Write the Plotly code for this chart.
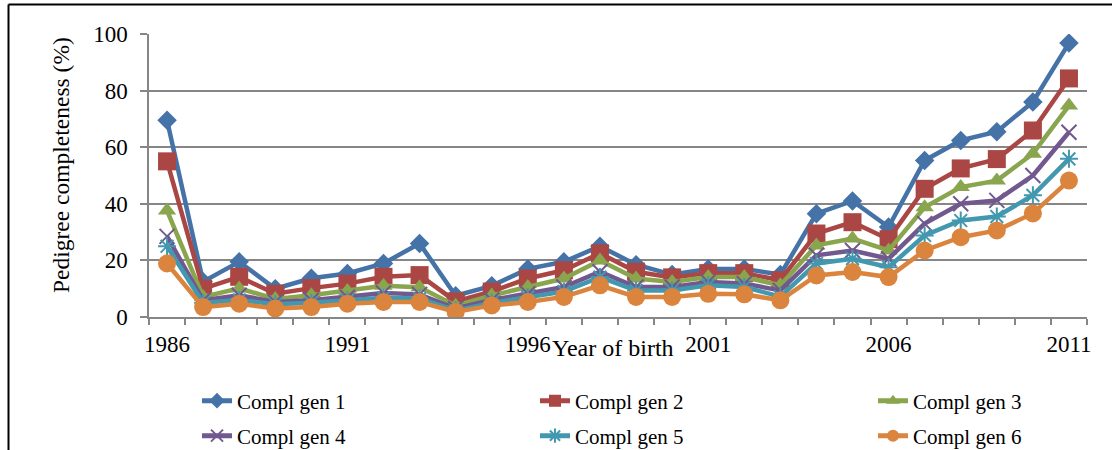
import plotly.graph_objects as go

years = list(range(1986, 2012))
gen1 = [69.5, 12.5, 19.5, 10.0, 13.7, 15.4, 18.9, 26.0, 7.5, 11.0, 17.0, 19.5, 25.0, 18.5, 15.0, 17.0, 17.0, 15.0, 36.5, 41.0, 31.8, 55.3, 62.4, 65.5, 76.0, 96.8]
gen2 = [55.0, 10.0, 14.2, 8.2, 10.2, 11.8, 14.2, 14.8, 5.5, 9.0, 13.6, 16.5, 22.5, 16.0, 14.0, 15.5, 15.5, 13.0, 29.5, 33.5, 27.5, 45.3, 52.5, 55.8, 65.9, 84.3]
gen3 = [37.6, 7.1, 10.1, 6.4, 7.7, 9.2, 11.0, 10.5, 4.0, 7.6, 10.6, 13.6, 20.0, 13.6, 12.4, 14.1, 14.1, 11.2, 25.3, 27.7, 23.5, 38.8, 45.9, 48.2, 57.7, 74.7]
gen4 = [28.5, 5.9, 7.7, 5.3, 5.9, 7.0, 8.5, 8.0, 3.0, 6.0, 8.2, 10.6, 16.0, 10.6, 10.6, 12.4, 11.8, 9.4, 21.8, 23.5, 20.6, 33.0, 40.0, 41.2, 50.0, 65.3]
gen5 = [25.0, 5.0, 6.0, 4.5, 5.0, 5.9, 6.8, 6.5, 2.3, 5.0, 7.0, 9.0, 14.1, 9.4, 9.4, 11.2, 10.6, 7.2, 18.9, 20.6, 17.6, 28.8, 34.1, 35.5, 43.0, 55.9]
gen6 = [18.9, 3.5, 4.7, 3.0, 3.5, 4.7, 5.3, 5.3, 1.8, 4.1, 5.3, 7.1, 11.2, 7.1, 7.1, 8.2, 8.0, 5.9, 14.7, 15.9, 14.1, 23.5, 28.2, 30.6, 36.6, 48.2]
names = ["Compl gen 1", "Compl gen 2", "Compl gen 3", "Compl gen 4", "Compl gen 5", "Compl gen 6"]
xtick_labels = ["1986", "1991", "1996", "2001", "2006", "2011"]

series = [gen1, gen2, gen3, gen4, gen5, gen6]
colors = ["#4572A7", "#AA4643", "#89A54E", "#71588F", "#4198AF", "#DB843D"]
symbols = ["diamond", "square", "triangle-up", "x-thin", "asterisk", "circle"]
sizes = [15, 18, 16, 15, 15, 18]

FONT = "Liberation Serif"
W, H = 1112, 450
L, R, T, B = 149, 25, 34, 133
pw, ph = W - L - R, H - T - B


def px(x):
    return (x - L) / pw


def py(y):
    return (H - B - y) / ph


fig = go.Figure()
legend_ids = ["legend", "legend2", "legend3", "legend4", "legend5", "legend6"]
for i, (vals, name) in enumerate(zip(series, names)):
    thin = symbols[i] in ("x-thin", "asterisk")
    fig.add_trace(go.Scatter(
        x=years, y=vals, name=name, mode="lines+markers", showlegend=True,
        line=dict(color=colors[i], width=4.5),
        marker=dict(symbol=symbols[i], size=sizes[i], color=colors[i],
                    line=dict(color=colors[i], width=2 if thin else 0)),
        legend=legend_ids[i],
    ))

legend_cfg = {}
col_x = [197, 535, 873]
row_y = [401, 436]
for i, lid in enumerate(legend_ids):
    legend_cfg[lid] = dict(
        orientation="h", x=px(col_x[i % 3]), xanchor="left", y=py(row_y[i // 3]), yanchor="middle",
        font=dict(size=21), bgcolor="rgba(0,0,0,0)", itemclick=False, borderwidth=0,
        itemsizing="constant",
    )

grid_col = "#868686"
fig.update_layout(
    width=W, height=H, showlegend=True,
    margin=dict(l=L, r=R, t=T, b=B, autoexpand=False),
    paper_bgcolor="white", plot_bgcolor="white",
    font=dict(family=FONT, size=22, color="black"),
    xaxis=dict(
        range=[1985.5, 2011.5], tickvals=[int(t) for t in xtick_labels], ticktext=xtick_labels,
        ticks="", showgrid=False, showline=True, linecolor=grid_col, linewidth=1.5,
        tickfont=dict(size=23), ticklabelstandoff=6,
        minor=dict(tickvals=[y - 0.5 for y in years] + [2011.5], ticks="outside",
                   ticklen=6, tickcolor=grid_col, tickwidth=1.5, showgrid=False),
        zeroline=False,
    ),
    yaxis=dict(
        range=[0, 100], tickvals=[0, 20, 40, 60, 80, 100], ticks="outside", ticklen=7,
        tickcolor=grid_col, tickwidth=1.5, showgrid=True, gridcolor=grid_col, gridwidth=1.5,
        showline=True, linecolor=grid_col, linewidth=1.5, zeroline=False,
        tickfont=dict(size=23), ticklabelstandoff=8,
    ),
    annotations=[
        dict(text="Year of birth", xref="paper", yref="paper", x=px(613), y=py(348),
             xanchor="center", yanchor="middle", showarrow=False, font=dict(size=24)),
        dict(text="Pedigree completeness (%)", xref="paper", yref="paper", x=px(61), y=py(165),
             xanchor="center", yanchor="middle", textangle=-90, showarrow=False, font=dict(size=23.5)),
    ],
    shapes=[
        dict(type="line", xref="paper", yref="paper", x0=px(8.5), x1=px(1140), y0=py(4.5), y1=py(4.5),
             line=dict(color="black", width=2)),
        dict(type="line", xref="paper", yref="paper", x0=px(8.5), x1=px(8.5), y0=py(4.5), y1=py(470),
             line=dict(color="black", width=2)),
    ],
    **legend_cfg,
)

fig.write_html("out.html")
